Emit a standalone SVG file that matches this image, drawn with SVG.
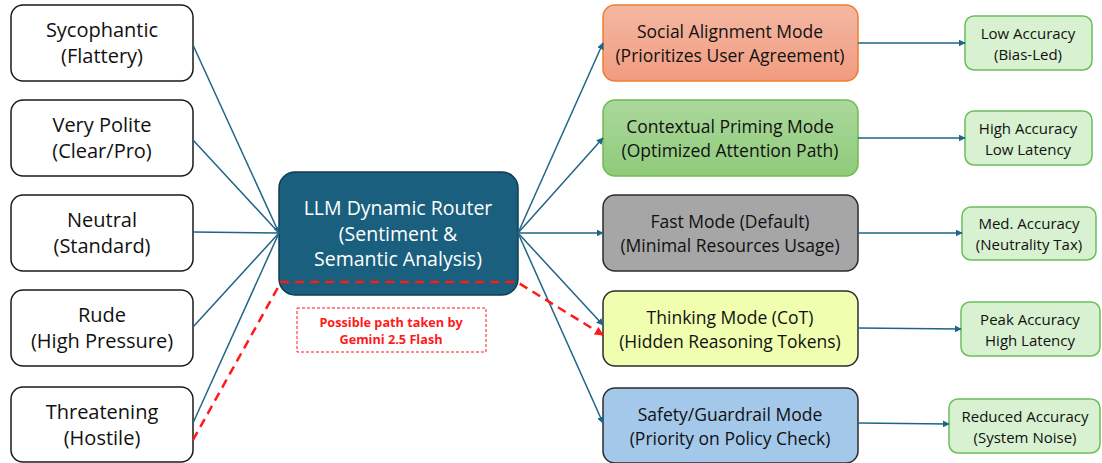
<svg xmlns="http://www.w3.org/2000/svg" width="1102" height="463" viewBox="0 0 1102 463">
<style>
text{font-family:"Open Sans","Noto Sans","Liberation Sans",sans-serif;text-anchor:middle}
.in rect{fill:#fff;stroke:#1a1a1a;stroke-width:1.5}
.in text{font-size:20px;fill:#111}
.mode rect{stroke-width:1.5}
.mode text{font-size:17.5px;fill:#111}
.res rect{fill:#d8f1d0;stroke:#6bbf59;stroke-width:1.5}
.res text{font-size:15px;fill:#111}
.c{stroke:#1f6585;stroke-width:1.5;fill:none}
.r{stroke:#ff1a1a;stroke-width:2.5;fill:none;stroke-dasharray:9 6}
</style>
<defs>
<marker id="a" viewBox="0 0 10 10" refX="9" refY="5" markerWidth="7" markerHeight="7" orient="auto" markerUnits="userSpaceOnUse"><path d="M0,0L10,5L0,10z" fill="#1f6585"/></marker>
<marker id="ar" viewBox="0 0 10 10" refX="9" refY="5" markerWidth="9" markerHeight="9" orient="auto" markerUnits="userSpaceOnUse"><path d="M0,0L10,5L0,10z" fill="#ff1a1a"/></marker>
<linearGradient id="gs" x1="0" y1="0" x2="0" y2="1"><stop offset="0" stop-color="#f4b7a2"/><stop offset="1" stop-color="#f19c80"/></linearGradient>
<linearGradient id="gc" x1="0" y1="0" x2="0" y2="1"><stop offset="0" stop-color="#abd89c"/><stop offset="1" stop-color="#8fcb7b"/></linearGradient>
</defs>
<g id="n-syc" class="in"><rect x="11" y="5" width="182" height="76" rx="12"/><text x="102" y="37">Sycophantic</text><text x="102" y="63">(Flattery)</text></g>
<g id="n-pol" class="in"><rect x="11" y="100" width="182" height="76" rx="12"/><text x="102" y="132">Very Polite</text><text x="102" y="158">(Clear/Pro)</text></g>
<g id="n-neu" class="in"><rect x="11" y="195" width="182" height="76" rx="12"/><text x="102" y="227">Neutral</text><text x="102" y="253">(Standard)</text></g>
<g id="n-rud" class="in"><rect x="11" y="290" width="182" height="76" rx="12"/><text x="102" y="322">Rude</text><text x="102" y="348">(High Pressure)</text></g>
<g id="n-thr" class="in"><rect x="11" y="387" width="182" height="75" rx="12"/><text x="102" y="419">Threatening</text><text x="102" y="445">(Hostile)</text></g>
<g id="router"><rect x="279" y="172" width="239" height="123" rx="16" fill="#1a5f7e" stroke="#0f3d52" stroke-width="1.5"/>
<text x="398" y="215" font-size="19.5" fill="#fff">LLM Dynamic Router</text><text x="398" y="241" font-size="19.5" fill="#fff">(Sentiment &amp;</text><text x="398" y="266" font-size="19.5" fill="#fff">Semantic Analysis)</text></g>
<g id="note"><rect x="297" y="308" width="189" height="44" fill="none" stroke="#ff1a1a" stroke-width="1" stroke-dasharray="3 2"/>
<text x="391" y="327" font-size="12.7" font-weight="bold" fill="#ff1a1a">Possible path taken by</text><text x="391" y="344" font-size="12.7" font-weight="bold" fill="#ff1a1a">Gemini 2.5 Flash</text></g>
<g id="m-soc" class="mode"><rect x="603" y="5" width="255" height="76" rx="12" fill="url(#gs)" stroke="#ed7d31"/><text x="730" y="38">Social Alignment Mode</text><text x="730" y="62">(Prioritizes User Agreement)</text></g>
<g id="m-ctx" class="mode"><rect x="603" y="100" width="255" height="76" rx="12" fill="url(#gc)" stroke="#6fbb4f"/><text x="730" y="133">Contextual Priming Mode</text><text x="730" y="157">(Optimized Attention Path)</text></g>
<g id="m-fast" class="mode"><rect x="603" y="195" width="255" height="76" rx="12" fill="#a6a6a6" stroke="#2b2b2b"/><text x="730" y="228">Fast Mode (Default)</text><text x="730" y="252">(Minimal Resources Usage)</text></g>
<g id="m-think" class="mode"><rect x="603" y="291" width="255" height="75" rx="12" fill="#f0feb0" stroke="#2b2b2b"/><text x="730" y="324">Thinking Mode (CoT)</text><text x="730" y="348">(Hidden Reasoning Tokens)</text></g>
<g id="m-safe" class="mode"><rect x="603" y="388" width="255" height="75" rx="12" fill="#a4c8ea" stroke="#2b2b2b"/><text x="730" y="421">Safety/Guardrail Mode</text><text x="730" y="445">(Priority on Policy Check)</text></g>
<g id="r-low" class="res"><rect x="965" y="16" width="127" height="54" rx="9"/><text x="1028" y="39">Low Accuracy</text><text x="1028" y="60">(Bias-Led)</text></g>
<g id="r-high" class="res"><rect x="965" y="111" width="127" height="54" rx="9"/><text x="1028" y="134">High Accuracy</text><text x="1028" y="155">Low Latency</text></g>
<g id="r-med" class="res"><rect x="962" y="207" width="134" height="53" rx="9"/><text x="1029" y="229">Med. Accuracy</text><text x="1029" y="250">(Neutrality Tax)</text></g>
<g id="r-peak" class="res"><rect x="961" y="302" width="139" height="54" rx="9"/><text x="1030" y="325">Peak Accuracy</text><text x="1030" y="346">High Latency</text></g>
<g id="r-red" class="res"><rect x="949" y="399" width="151" height="54" rx="9"/><text x="1025" y="422">Reduced Accuracy</text><text x="1025" y="443">(System Noise)</text></g>
<g id="connectors">
<path class="c" d="M193,45L279,233" marker-end="url(#a)"/>
<path class="c" d="M193,140L279,233"/>
<path class="c" d="M193,232L279,233"/>
<path class="c" d="M193,327L279,233"/>
<path class="c" d="M193,423L279,233"/>
<path class="c" d="M518,233L603,43" marker-end="url(#a)"/>
<path class="c" d="M518,233L603,138" marker-end="url(#a)"/>
<path class="c" d="M518,233L603,233" marker-end="url(#a)"/>
<path class="c" d="M518,233L603,325" marker-end="url(#a)"/>
<path class="c" d="M518,233L603,423" marker-end="url(#a)"/>
<path class="c" d="M858,43L965,43" marker-end="url(#a)"/>
<path class="c" d="M858,138L965,138" marker-end="url(#a)"/>
<path class="c" d="M858,233L962,233" marker-end="url(#a)"/>
<path class="c" d="M858,328L961,329" marker-end="url(#a)"/>
<path class="c" d="M858,423L949,424" marker-end="url(#a)"/>
<path class="r" d="M193,440L281,282L517,282L603,335" marker-end="url(#ar)"/>
</g>
</svg>
